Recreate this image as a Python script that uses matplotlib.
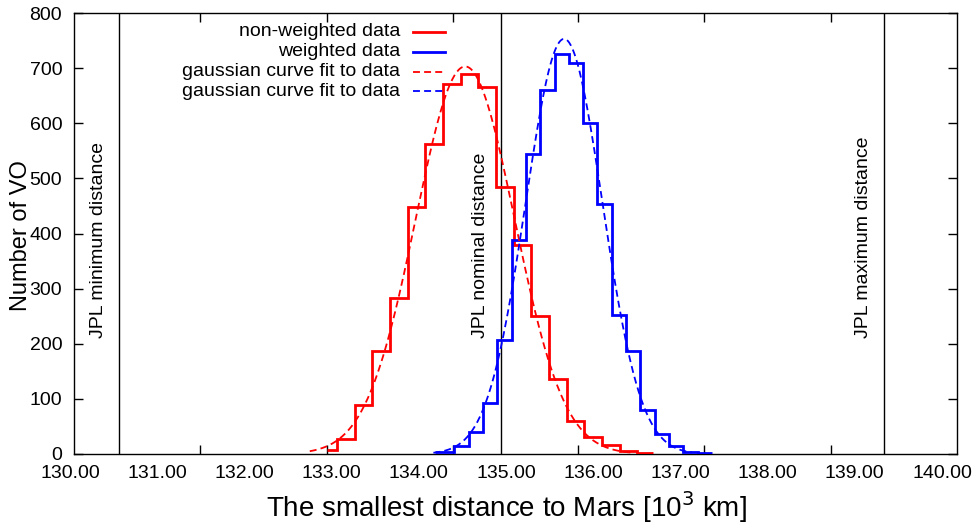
import numpy as np
import matplotlib
matplotlib.use("Agg")
import matplotlib.pyplot as plt
from matplotlib.lines import Line2D

plt.rcParams['font.family'] = ['Liberation Sans', 'DejaVu Sans']
plt.rcParams['lines.scale_dashes'] = False

# ---------------- data ----------------
red_edges = [132.86, 132.98, 133.18, 133.38, 133.58, 133.78, 133.98, 134.18, 134.38,
             134.58, 134.78, 134.98, 135.18, 135.38, 135.58, 135.78, 135.98, 136.18,
             136.38, 136.56]
red_counts = [7, 28, 88, 186, 283, 448, 563, 671, 689, 665, 485, 380, 250, 136, 60,
              31, 16, 5, 2]

blue_edges = [134.09, 134.308, 134.470, 134.632, 134.794, 134.956, 135.118, 135.280,
              135.442, 135.604, 135.766, 135.928, 136.090, 136.252, 136.414, 136.576,
              136.738, 136.900, 137.062, 137.224]
blue_counts = [3, 14, 40, 93, 207, 389, 545, 660, 725, 709, 600, 454, 253, 186, 80,
               36, 15, 4, 2]

# gaussian fit parameters: amplitude, mean, sigma, plotted range
red_fit_amp, red_fit_mu, red_fit_sigma = 703, 134.43, 0.56
red_fit_range = (132.67, 136.32)
blue_fit_amp, blue_fit_mu, blue_fit_sigma = 753, 135.55, 0.434
blue_fit_range = (134.07, 137.0)

jpl_positions = [130.51, 134.834, 139.17]
jpl_labels = ['JPL minimum distance', 'JPL nominal distance', 'JPL maximum distance']
jpl_label_y = 211

x_label_values = [130, 131, 132, 133, 134, 135, 136, 137, 138, 139, 140]
x_tick_labels = ['130.00', '131.00', '132.00', '133.00', '134.00', '135.00',
                 '136.00', '137.00', '138.00', '139.00', '140.00']
x_tick_marks = [131.43, 132.86, 134.29, 135.71, 137.14, 138.57]
y_ticks = [0, 100, 200, 300, 400, 500, 600, 700, 800]

legend_labels = ['non-weighted data', 'weighted data',
                 'gaussian curve fit to data', 'gaussian curve fit to data']

RED = '#ff0000'
BLUE = '#0000ff'

# ---------------- figure ----------------
W, H = 975, 525
fig = plt.figure(figsize=(W / 100, H / 100), dpi=100)
L, R, B, T = 74, 957, 454, 13
ax = fig.add_axes([L / W, (H - B) / H, (R - L) / W, (B - T) / H])
ax.set_xlim(130, 140)
ax.set_ylim(0, 800)

# JPL reference lines
for xp, lab in zip(jpl_positions, jpl_labels):
    ax.axvline(xp, color='black', lw=1.0, zorder=1)
    ax.text(xp - 0.23, jpl_label_y, lab, rotation=90, ha='center', va='bottom',
            fontsize=14, zorder=1)

# histograms (histeps style)
ax.stairs(red_counts, red_edges, baseline=None, color=RED, lw=2.0, zorder=3)
ax.stairs(blue_counts, blue_edges, baseline=None, color=BLUE, lw=2.0, zorder=3)

# gaussian fits
def gauss(x, a, mu, s):
    return a * np.exp(-(x - mu) ** 2 / (2 * s ** 2))

xr = np.linspace(*red_fit_range, 300)
ax.plot(xr, gauss(xr, red_fit_amp, red_fit_mu, red_fit_sigma), color=RED, lw=1.3,
        ls=(0, (5, 3)), zorder=4)
xb = np.linspace(*blue_fit_range, 300)
ax.plot(xb, gauss(xb, blue_fit_amp, blue_fit_mu, blue_fit_sigma), color=BLUE, lw=1.3,
        ls=(0, (5, 3)), zorder=4)

# axes styling
for sp in ax.spines.values():
    sp.set_linewidth(1.0)
ax.set_yticks(y_ticks)
ax.tick_params(axis='y', direction='in', length=6.5, width=1.0, left=True, right=True,
               labelsize=14, pad=8.5)
ax.set_xticks(x_tick_marks)
ax.set_xticklabels([])
ax.tick_params(axis='x', direction='in', length=6.5, width=1.0, bottom=True, top=True,
               labelbottom=False)

# tick labels on their own scale (as in the original figure): an invisible,
# slightly wider axes carrying only the labels
LL, LR = 60, 960
lab_scale = 87.2  # px per unit of the label scale
lab_lo = 130 - (70 - LL) / lab_scale
lab_hi = lab_lo + (LR - LL) / lab_scale
ax2 = fig.add_axes([LL / W, (H - B) / H, (LR - LL) / W, (B - T) / H])
ax2.set_xlim(lab_lo, lab_hi)
ax2.set_xticks(x_label_values)
ax2.set_xticklabels(x_tick_labels)
ax2.set_yticks([])
ax2.tick_params(axis='x', length=0, labelsize=14, pad=8)
for sp in ax2.spines.values():
    sp.set_visible(False)
ax2.patch.set_visible(False)

ax.set_xlabel('The smallest distance to Mars [10$^{3}$ km]', fontsize=20)
ax.xaxis.set_label_coords((506 - L) / (R - L), (B - 489) / (B - T))
ax.set_ylabel('Number of VO', fontsize=17, va='center')
ax.yaxis.set_label_coords((21 - L) / (R - L), (B - 236) / (B - T))

# legend (gnuplot style: right-aligned text, sample to the right)
leg_y = [32, 52, 72, 91]
leg_styles = [(RED, '-', 2.0), (BLUE, '-', 2.0), (RED, (0, (5, 3)), 1.3),
              (BLUE, (0, (5, 3)), 1.3)]
for yy, lab, (c, ls, lw) in zip(leg_y, legend_labels, leg_styles):
    fig.text(400 / W, 1 - yy / H, lab, ha='right', va='center', fontsize=14)
    fig.add_artist(Line2D([413 / W, 445 / W], [1 - yy / H, 1 - yy / H], color=c,
                          ls=ls, lw=lw, transform=fig.transFigure))

fig.savefig('out.png', dpi=100)
